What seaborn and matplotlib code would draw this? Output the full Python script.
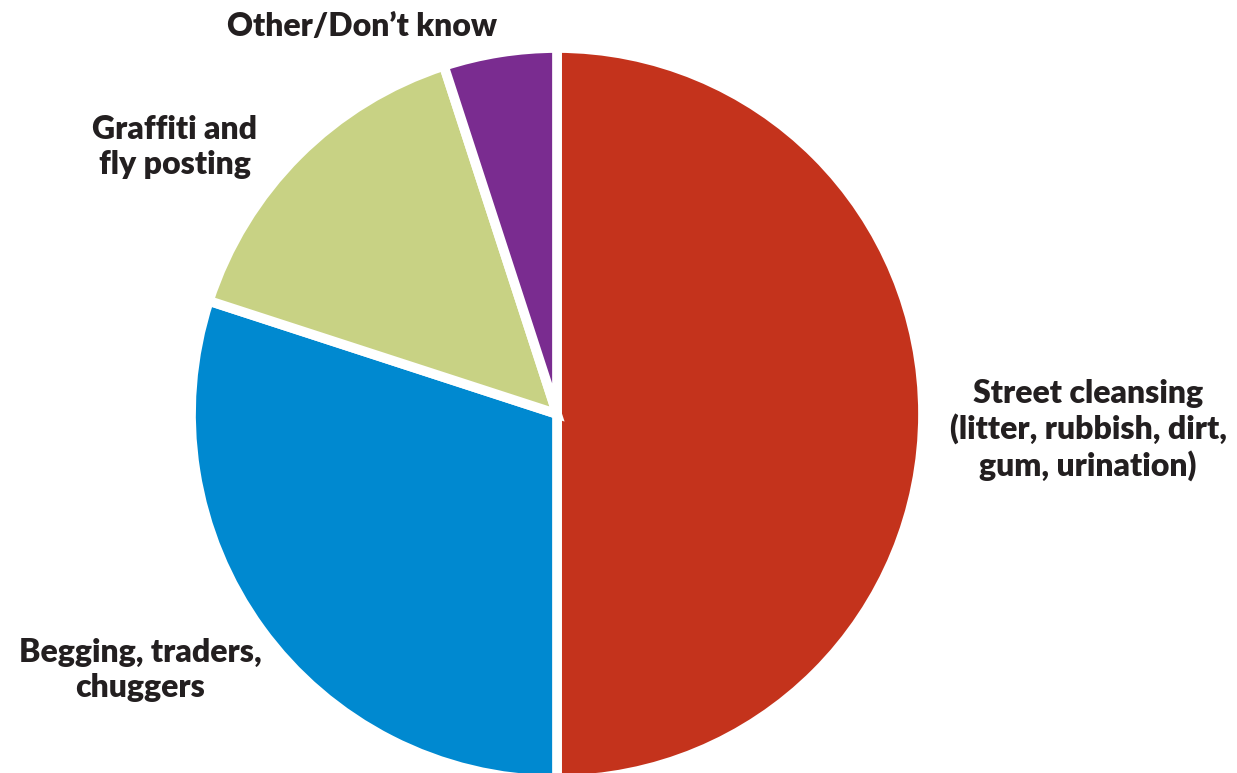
import matplotlib
matplotlib.use("Agg")
import matplotlib.pyplot as plt
import seaborn as sns

categories = ["Street cleansing\n(litter, rubbish, dirt,\ngum, urination)",
              "Begging, traders,\nchuggers",
              "Graffiti and\nfly posting",
              "Other/Don\u2019t know"]
shares = [50, 30, 15, 5]
colors = ["#C4331C", "#0089D0", "#C8D284", "#7A2C90"]

sns.set_theme(style="white")
plt.rcParams['font.family'] = ['Lato', 'DejaVu Sans']

fig = plt.figure(figsize=(12.37, 7.73), dpi=100)
ax = fig.add_axes([0, 0, 1, 1])

ax.pie(shares, colors=colors, startangle=90, counterclock=False,
       center=(557, 359), radius=366, explode=[0.005, 0, 0, 0],
       wedgeprops=dict(edgecolor="white", linewidth=7))

label_pos = [(1088, 343), (140, 103), (175, 626), (362, 746)]
for text, (x, y) in zip(categories, label_pos):
    ax.text(x, y, text, ha="center", va="center", fontsize=23,
            fontweight="heavy", color="#231F20", linespacing=1.22)

ax.set_xlim(0, 1237)
ax.set_ylim(0, 773)
ax.set_aspect("equal")
ax.axis("off")

fig.savefig("out.png", dpi=100, facecolor="white")
